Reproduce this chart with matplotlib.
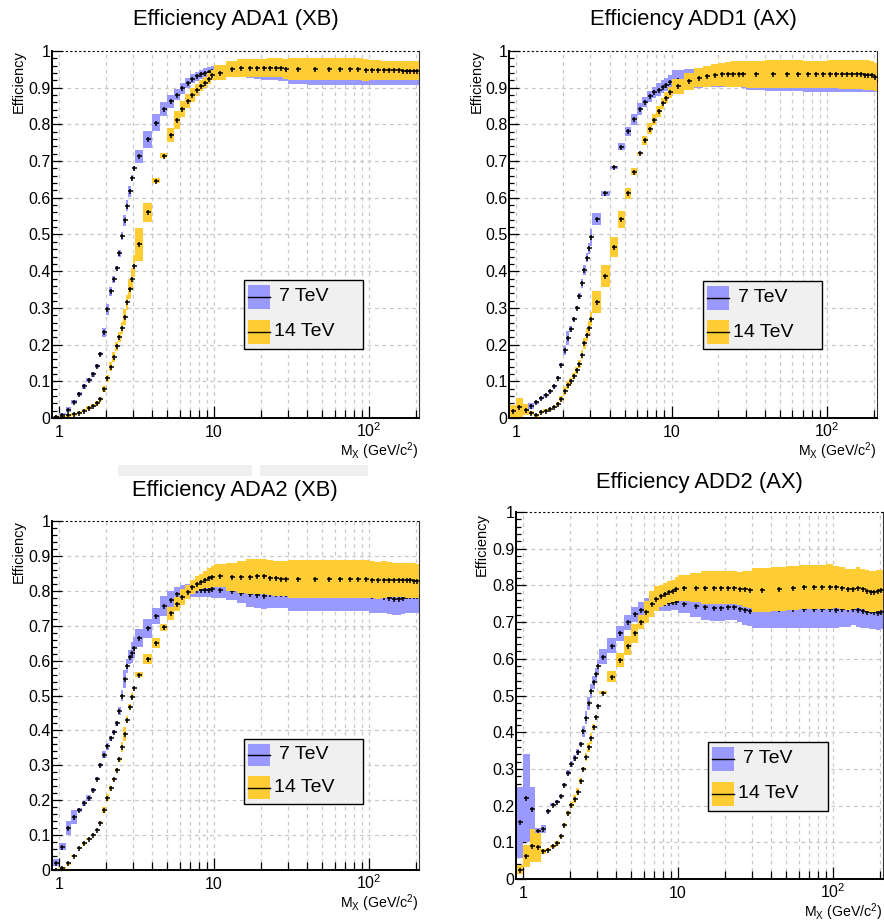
import numpy as np
import matplotlib
matplotlib.use("Agg")
import matplotlib.pyplot as plt
from matplotlib.patches import Rectangle
from matplotlib.lines import Line2D
from matplotlib.ticker import FixedLocator, NullFormatter, FixedFormatter

plt.rcParams['font.family'] = ['Liberation Sans', 'DejaVu Sans']
plt.rcParams['mathtext.fontset'] = 'custom'
plt.rcParams['mathtext.rm'] = 'Liberation Sans'
plt.rcParams['mathtext.it'] = 'Liberation Sans:italic'
plt.rcParams['mathtext.bf'] = 'Liberation Sans:bold'

# ---------------- data ----------------
bin_edges = [0.9, 1.0, 1.1, 1.2, 1.3, 1.4, 1.5, 1.6, 1.7, 1.8,
             1.9, 2.0, 2.1, 2.2, 2.3, 2.4, 2.5, 2.6, 2.7, 2.8,
             2.9, 3.0, 3.1, 3.5, 4.0, 4.5, 5.0, 5.5, 6.0, 6.5,
             7.0, 7.5, 8.0, 8.5, 9.0, 9.5, 10, 12, 14, 16,
             18, 20, 22, 24, 26, 28, 30, 40, 50, 60,
             70, 80, 90, 100, 110, 120, 130, 140, 150, 160,
             170, 180, 190, 200, 210]

series_labels = ["7 TeV", "14 TeV"]
titles = ["Efficiency ADA1 (XB)", "Efficiency ADD1 (AX)",
          "Efficiency ADA2 (XB)", "Efficiency ADD2 (AX)"]
y_ticklabels = ["0", "0.1", "0.2", "0.3", "0.4", "0.5", "0.6", "0.7", "0.8", "0.9", "1"]
x_ticklabels = ["1", "10", r"$\mathregular{10^{2}}$"]

ada1_7tev = [0.003, 0.009, 0.023, 0.044, 0.066, 0.086, 0.104, 0.119, 0.141, 0.175,
             0.233, 0.296, 0.345, 0.378, 0.408, 0.449, 0.496, 0.539, 0.578, 0.618,
             0.653, 0.680, 0.713, 0.759, 0.805, 0.842, 0.863, 0.881, 0.898, 0.913,
             0.925, 0.931, 0.937, 0.941, 0.944, 0.946, 0.946, 0.945, 0.944, 0.943,
             0.942, 0.941, 0.940, 0.940, 0.939, 0.939, 0.938, 0.937, 0.937, 0.937,
             0.937, 0.937, 0.937, 0.936, 0.936, 0.936, 0.936, 0.936, 0.935, 0.935,
             0.935, 0.935, 0.936, 0.936]
ada1_7tev_err = [0.003, 0.004, 0.008, 0.006, 0.005, 0.006, 0.006, 0.007, 0.006, 0.005,
                 0.012, 0.015, 0.012, 0.010, 0.006, 0.010, 0.012, 0.015, 0.015, 0.015,
                 0.008, 0.006, 0.017, 0.023, 0.023, 0.020, 0.018, 0.015, 0.015, 0.013,
                 0.012, 0.012, 0.012, 0.012, 0.012, 0.013, 0.015, 0.015, 0.015, 0.016,
                 0.017, 0.019, 0.020, 0.020, 0.020, 0.021, 0.027, 0.030, 0.030, 0.030,
                 0.030, 0.030, 0.030, 0.028, 0.028, 0.028, 0.028, 0.028, 0.027, 0.027,
                 0.027, 0.027, 0.030, 0.030]
ada1_14tev = [0.002, 0.005, 0.008, 0.010, 0.014, 0.020, 0.027, 0.034, 0.040, 0.052,
              0.078, 0.108, 0.140, 0.166, 0.195, 0.220, 0.245, 0.275, 0.315, 0.352,
              0.380, 0.413, 0.473, 0.560, 0.646, 0.715, 0.770, 0.812, 0.843, 0.864,
              0.880, 0.893, 0.905, 0.914, 0.925, 0.934, 0.941, 0.950, 0.953, 0.953,
              0.954, 0.954, 0.955, 0.955, 0.954, 0.952, 0.952, 0.952, 0.950, 0.950,
              0.950, 0.950, 0.949, 0.948, 0.948, 0.947, 0.947, 0.947, 0.947, 0.946,
              0.946, 0.946, 0.946, 0.946]
ada1_14tev_err = [0.002, 0.003, 0.004, 0.004, 0.004, 0.005, 0.005, 0.005, 0.005, 0.006,
                  0.008, 0.010, 0.013, 0.013, 0.013, 0.014, 0.016, 0.022, 0.020, 0.028,
                  0.028, 0.030, 0.044, 0.026, 0.007, 0.007, 0.019, 0.024, 0.022, 0.020,
                  0.018, 0.016, 0.015, 0.014, 0.014, 0.013, 0.020, 0.022, 0.024, 0.024,
                  0.024, 0.025, 0.025, 0.025, 0.026, 0.027, 0.030, 0.030, 0.030, 0.030,
                  0.030, 0.030, 0.030, 0.028, 0.028, 0.027, 0.027, 0.027, 0.027, 0.026,
                  0.026, 0.026, 0.026, 0.026]

add1_7tev = [0.015, 0.022, 0.020, 0.032, 0.043, 0.054, 0.062, 0.073, 0.086, 0.110,
             0.145, 0.184, 0.218, 0.242, 0.270, 0.301, 0.333, 0.367, 0.403, 0.437,
             0.462, 0.492, 0.542, 0.612, 0.683, 0.739, 0.781, 0.814, 0.841, 0.862,
             0.877, 0.887, 0.895, 0.903, 0.908, 0.915, 0.922, 0.925, 0.926, 0.927,
             0.927, 0.926, 0.926, 0.925, 0.925, 0.924, 0.922, 0.921, 0.920, 0.920,
             0.919, 0.919, 0.919, 0.918, 0.918, 0.918, 0.918, 0.918, 0.918, 0.918,
             0.918, 0.917, 0.917, 0.917]
add1_7tev_err = [0.005, 0.006, 0.006, 0.008, 0.004, 0.004, 0.004, 0.004, 0.004, 0.004,
                 0.004, 0.011, 0.018, 0.009, 0.005, 0.005, 0.008, 0.012, 0.013, 0.013,
                 0.014, 0.024, 0.017, 0.007, 0.005, 0.010, 0.013, 0.015, 0.016, 0.014,
                 0.015, 0.016, 0.017, 0.018, 0.018, 0.020, 0.025, 0.026, 0.026, 0.026,
                 0.024, 0.024, 0.024, 0.024, 0.024, 0.024, 0.028, 0.030, 0.030, 0.030,
                 0.030, 0.030, 0.030, 0.030, 0.030, 0.030, 0.030, 0.030, 0.030, 0.030,
                 0.030, 0.030, 0.030, 0.030]
add1_14tev = [0.018, 0.029, 0.023, 0.014, 0.008, 0.015, 0.020, 0.024, 0.030, 0.038,
              0.053, 0.074, 0.090, 0.100, 0.115, 0.130, 0.147, 0.172, 0.204, 0.227,
              0.245, 0.270, 0.317, 0.388, 0.467, 0.542, 0.612, 0.671, 0.721, 0.757,
              0.788, 0.813, 0.836, 0.857, 0.873, 0.888, 0.904, 0.917, 0.927, 0.931,
              0.934, 0.936, 0.936, 0.937, 0.937, 0.938, 0.937, 0.937, 0.937, 0.937,
              0.936, 0.936, 0.936, 0.937, 0.937, 0.936, 0.936, 0.936, 0.936, 0.936,
              0.935, 0.935, 0.934, 0.930]
add1_14tev_err = [0.018, 0.025, 0.015, 0.005, 0.004, 0.004, 0.004, 0.004, 0.004, 0.005,
                  0.006, 0.010, 0.012, 0.010, 0.008, 0.010, 0.012, 0.012, 0.015, 0.018,
                  0.020, 0.020, 0.030, 0.030, 0.027, 0.023, 0.016, 0.009, 0.005, 0.012,
                  0.015, 0.015, 0.015, 0.015, 0.015, 0.015, 0.020, 0.022, 0.026, 0.028,
                  0.030, 0.032, 0.034, 0.035, 0.036, 0.036, 0.037, 0.038, 0.038, 0.038,
                  0.038, 0.038, 0.038, 0.038, 0.039, 0.040, 0.040, 0.040, 0.040, 0.040,
                  0.040, 0.040, 0.040, 0.038]

ada2_7tev = [0.021, 0.067, 0.119, 0.153, 0.172, 0.191, 0.207, 0.229, 0.262, 0.300,
             0.330, 0.355, 0.377, 0.396, 0.420, 0.455, 0.500, 0.547, 0.584, 0.609,
             0.623, 0.637, 0.665, 0.693, 0.728, 0.756, 0.775, 0.790, 0.797, 0.800,
             0.801, 0.802, 0.803, 0.803, 0.803, 0.804, 0.803, 0.800, 0.795, 0.790,
             0.787, 0.786, 0.790, 0.790, 0.790, 0.790, 0.787, 0.787, 0.787, 0.788,
             0.788, 0.788, 0.788, 0.785, 0.785, 0.783, 0.778, 0.777, 0.777, 0.778,
             0.785, 0.785, 0.785, 0.785]
ada2_7tev_err = [0.010, 0.010, 0.020, 0.020, 0.005, 0.008, 0.008, 0.006, 0.005, 0.006,
                 0.010, 0.010, 0.006, 0.006, 0.006, 0.012, 0.015, 0.025, 0.020, 0.020,
                 0.030, 0.030, 0.025, 0.027, 0.023, 0.028, 0.025, 0.020, 0.020, 0.020,
                 0.020, 0.020, 0.020, 0.022, 0.022, 0.024, 0.025, 0.025, 0.030, 0.035,
                 0.037, 0.038, 0.040, 0.040, 0.040, 0.040, 0.045, 0.045, 0.045, 0.045,
                 0.045, 0.045, 0.045, 0.048, 0.048, 0.048, 0.045, 0.045, 0.045, 0.045,
                 0.048, 0.048, 0.048, 0.048]
ada2_14tev = [0.000, 0.005, 0.019, 0.041, 0.062, 0.076, 0.088, 0.100, 0.114, 0.136,
              0.172, 0.207, 0.234, 0.260, 0.286, 0.317, 0.353, 0.391, 0.431, 0.468,
              0.496, 0.522, 0.560, 0.604, 0.651, 0.695, 0.735, 0.761, 0.782, 0.796,
              0.810, 0.820, 0.826, 0.832, 0.837, 0.840, 0.843, 0.840, 0.840, 0.840,
              0.841, 0.841, 0.838, 0.836, 0.835, 0.835, 0.833, 0.833, 0.833, 0.833,
              0.834, 0.834, 0.833, 0.832, 0.830, 0.832, 0.832, 0.831, 0.831, 0.831,
              0.830, 0.830, 0.829, 0.828]
ada2_14tev_err = [0.002, 0.004, 0.004, 0.003, 0.003, 0.003, 0.003, 0.003, 0.003, 0.004,
                  0.008, 0.010, 0.008, 0.005, 0.005, 0.008, 0.015, 0.020, 0.010, 0.008,
                  0.010, 0.005, 0.008, 0.015, 0.015, 0.010, 0.018, 0.020, 0.022, 0.020,
                  0.020, 0.022, 0.022, 0.025, 0.028, 0.030, 0.033, 0.040, 0.045, 0.050,
                  0.050, 0.050, 0.050, 0.050, 0.050, 0.050, 0.054, 0.054, 0.054, 0.054,
                  0.054, 0.054, 0.054, 0.053, 0.053, 0.053, 0.050, 0.050, 0.050, 0.050,
                  0.050, 0.050, 0.050, 0.050]

add2_7tev = [0.155, 0.220, 0.190, 0.130, 0.136, 0.184, 0.202, 0.210, 0.225, 0.257,
             0.290, 0.314, 0.329, 0.347, 0.368, 0.402, 0.440, 0.479, 0.512, 0.536,
             0.558, 0.580, 0.606, 0.636, 0.669, 0.699, 0.721, 0.734, 0.744, 0.750,
             0.752, 0.752, 0.753, 0.753, 0.754, 0.754, 0.749, 0.743, 0.740, 0.739,
             0.739, 0.742, 0.740, 0.737, 0.733, 0.730, 0.735, 0.735, 0.735, 0.735,
             0.735, 0.735, 0.735, 0.733, 0.735, 0.735, 0.736, 0.733, 0.730, 0.728,
             0.730, 0.728, 0.726, 0.728]
add2_7tev_err = [0.097, 0.120, 0.060, 0.010, 0.012, 0.005, 0.004, 0.004, 0.005, 0.005,
                 0.006, 0.008, 0.008, 0.008, 0.005, 0.015, 0.018, 0.018, 0.018, 0.018,
                 0.018, 0.018, 0.020, 0.020, 0.020, 0.020, 0.020, 0.022, 0.022, 0.022,
                 0.022, 0.022, 0.022, 0.022, 0.022, 0.022, 0.025, 0.030, 0.033, 0.035,
                 0.035, 0.035, 0.035, 0.036, 0.040, 0.040, 0.050, 0.050, 0.050, 0.050,
                 0.050, 0.050, 0.050, 0.048, 0.048, 0.048, 0.045, 0.045, 0.045, 0.045,
                 0.048, 0.048, 0.048, 0.048]
add2_14tev = [0.025, 0.063, 0.090, 0.086, 0.075, 0.080, 0.089, 0.098, 0.116, 0.148,
              0.180, 0.202, 0.218, 0.238, 0.266, 0.299, 0.332, 0.359, 0.384, 0.413,
              0.442, 0.471, 0.508, 0.551, 0.597, 0.636, 0.669, 0.700, 0.728, 0.749,
              0.764, 0.771, 0.776, 0.781, 0.785, 0.790, 0.793, 0.794, 0.794, 0.794,
              0.794, 0.794, 0.793, 0.791, 0.790, 0.788, 0.788, 0.791, 0.794, 0.795,
              0.795, 0.795, 0.797, 0.796, 0.793, 0.789, 0.791, 0.794, 0.790, 0.786,
              0.783, 0.783, 0.786, 0.788]
add2_14tev_err = [0.012, 0.030, 0.045, 0.040, 0.008, 0.005, 0.005, 0.005, 0.005, 0.005,
                  0.006, 0.008, 0.010, 0.010, 0.008, 0.006, 0.010, 0.012, 0.015, 0.008,
                  0.005, 0.004, 0.003, 0.015, 0.020, 0.025, 0.025, 0.020, 0.030, 0.035,
                  0.035, 0.030, 0.030, 0.030, 0.030, 0.032, 0.035, 0.040, 0.045, 0.045,
                  0.045, 0.045, 0.045, 0.045, 0.050, 0.050, 0.060, 0.060, 0.060, 0.060,
                  0.060, 0.060, 0.060, 0.058, 0.058, 0.055, 0.055, 0.055, 0.055, 0.055,
                  0.055, 0.055, 0.055, 0.055]

# ---------------- style / layout ----------------
W, H = 884, 922
BLUE = "#9999ff"
YELLOW = "#ffcc33"
GRID = "#c8c8c8"

fig = plt.figure(figsize=(W / 100, H / 100), dpi=100)


def fx(px):
    return px / W


def fy(py):
    return 1 - py / H


panels = [
    dict(title=titles[0], y7=ada1_7tev, e7=ada1_7tev_err, y14=ada1_14tev, e14=ada1_14tev_err,
         box=(52, 51, 419, 418), tpos=(235.5, 20), ylab=(19, 50), xlab=(418.5, 455.5),
         leg=(244, 280, 363, 349)),
    dict(title=titles[1], y7=add1_7tev, e7=add1_7tev_err, y14=add1_14tev, e14=add1_14tev_err,
         box=(509, 51, 877, 418), tpos=(693, 20), ylab=(476.5, 50), xlab=(876.7, 455.5),
         leg=(703, 281, 822, 349)),
    dict(title=titles[2], y7=ada2_7tev, e7=ada2_7tev_err, y14=ada2_14tev, e14=ada2_14tev_err,
         box=(52, 521, 419, 870), tpos=(235, 490), ylab=(19, 520), xlab=(418.5, 907.5),
         leg=(244, 739, 363, 804)),
    dict(title=titles[3], y7=add2_7tev, e7=add2_7tev_err, y14=add2_14tev, e14=add2_14tev_err,
         box=(516, 512, 883, 879), tpos=(699.5, 482), ylab=(482, 513), xlab=(882.7, 916.5),
         leg=(708, 742, 828, 811)),
]

edges = np.array(bin_edges, dtype=float)
centers = 0.5 * (edges[:-1] + edges[1:])

# faint scan smudges between rows
for (l, t, r, b) in [(118, 465, 252, 476), (260, 465, 368, 476)]:
    fig.add_artist(Rectangle((fx(l), fy(b)), (r - l) / W, (b - t) / H,
                             transform=fig.transFigure, facecolor="#efefef",
                             edgecolor="none", zorder=0))

for p in panels:
    l, t, r, b = p["box"]
    ax = fig.add_axes([fx(l), fy(b), (r - l) / W, (b - t) / H])
    ax.set_xscale("log")
    ax.set_xlim(edges[0], edges[-1])
    ax.set_ylim(0, 1)

    y7 = np.array(p["y7"]); e7 = np.array(p["e7"])
    y14 = np.array(p["y14"]); e14 = np.array(p["e14"])
    assert len(y7) == len(centers) == len(e7) == len(y14) == len(e14)

    ax.stairs(y7 + e7, edges, baseline=y7 - e7, fill=True, color=BLUE, lw=0, zorder=2)
    ax.plot(centers, y7, ls="none", marker="+", ms=3.6, mew=1.1, color="black", zorder=3)
    ax.stairs(y14 + e14, edges, baseline=y14 - e14, fill=True, color=YELLOW, lw=0, zorder=4)
    ax.plot(centers, y14, ls="none", marker="+", ms=3.6, mew=1.1, color="black", zorder=5)

    # ticks
    ax.xaxis.set_major_locator(FixedLocator([1, 10, 100]))
    ax.xaxis.set_major_formatter(FixedFormatter(x_ticklabels))
    minors_x = [2, 3, 4, 5, 6, 7, 8, 9, 20, 30, 40, 50, 60, 70, 80, 90, 200]
    ax.xaxis.set_minor_locator(FixedLocator(minors_x))
    ax.xaxis.set_minor_formatter(NullFormatter())
    ax.yaxis.set_major_locator(FixedLocator(np.arange(11) / 10))
    ax.yaxis.set_major_formatter(FixedFormatter(y_ticklabels))
    ax.yaxis.set_minor_locator(FixedLocator(np.arange(51) / 50))

    ax.tick_params(axis="x", which="major", direction="in", length=9, width=0.9,
                   labelsize=11.5, pad=13.8, top=False)
    ax.tick_params(axis="x", which="minor", direction="in", length=6, width=0.9, top=False)
    ax.tick_params(axis="y", which="major", direction="in", length=7.5, width=0.9,
                   labelsize=11.5, pad=1, right=False)
    ax.tick_params(axis="y", which="minor", direction="in", length=3.8, width=0.9, right=False)
    for lab in ax.get_xticklabels():
        lab.set_verticalalignment("baseline")

    # grid
    for xv in [1, 2, 3, 4, 5, 6, 7, 8, 9, 10, 20, 30, 40, 50, 60, 70, 80, 90, 100, 200]:
        ax.axvline(xv, color=GRID, lw=0.9, ls=(0, (3, 3)), zorder=1)
    for yv in np.arange(1, 10) / 10:
        ax.axhline(yv, color=GRID, lw=0.9, ls=(0, (3, 3)), zorder=1)
    ax.axhline(1.0, color="black", lw=0.8, ls=(0, (2, 2)), zorder=6, clip_on=False)

    for s in ["left", "bottom"]:
        ax.spines[s].set_linewidth(1.4)
        ax.spines[s].set_zorder(7)
    ax.spines["top"].set_visible(False)
    ax.spines["right"].set_linewidth(0.8)
    ax.spines["right"].set_color("#333333")

    # texts
    fig.text(fx(p["tpos"][0]), fy(p["tpos"][1]), p["title"], ha="center", va="center",
             fontsize=15.8)
    fig.text(fx(p["ylab"][0]), fy(p["ylab"][1]), "Efficiency", rotation=90,
             ha="center", va="top", fontsize=10.5)
    fig.text(fx(p["xlab"][0]), fy(p["xlab"][1]), r"M$_{\mathregular{X}}$ (GeV/c$^{\mathregular{2}}$)",
             ha="right", va="baseline", fontsize=10.2)

    # legend
    ll, lt, lr, lb = p["leg"]
    h = lb - lt
    fig.add_artist(Rectangle((fx(ll), fy(lb)), (lr - ll) / W, h / H, transform=fig.transFigure,
                             facecolor="#f0f0f0", edgecolor="black", lw=1.0, zorder=10))
    for i, (col, lab) in enumerate(zip([BLUE, YELLOW], series_labels)):
        pt = lt + (0.07 if i == 0 else 0.575) * h
        pb = lt + (0.42 if i == 0 else 0.93) * h
        fig.add_artist(Rectangle((fx(ll + 4), fy(pb)), 22 / W, (pb - pt) / H,
                                 transform=fig.transFigure, facecolor=col,
                                 edgecolor="none", zorder=11))
        ym = 0.5 * (pt + pb)
        fig.add_artist(Line2D([fx(ll + 4), fx(ll + 26)], [fy(ym), fy(ym)],
                              transform=fig.transFigure, color="black", lw=1.0, zorder=12))
        fig.text(fx(ll + (35 if i == 0 else 30)), fy(ym), lab, ha="left", va="center",
                 fontsize=14, zorder=12)

fig.savefig("out.png", dpi=100)
